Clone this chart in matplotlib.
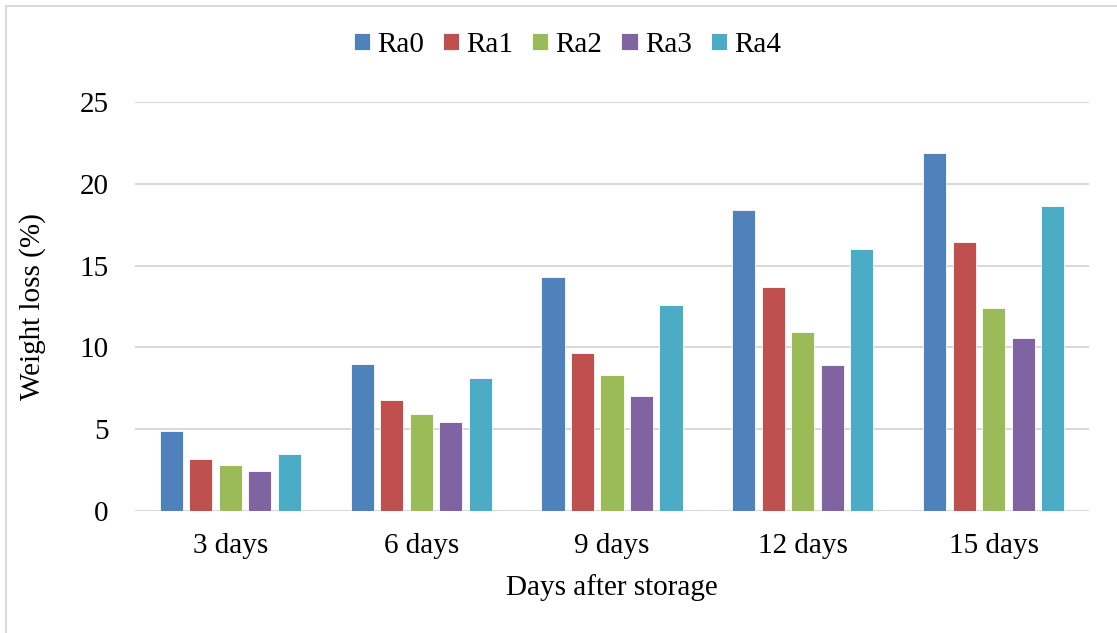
import numpy as np
import matplotlib
matplotlib.use("Agg")
import matplotlib.pyplot as plt
from matplotlib.patches import Rectangle

plt.rcParams['font.family'] = ['Liberation Serif', 'DejaVu Serif']

days = ["3 days", "6 days", "9 days", "12 days", "15 days"]
series = ["Ra0", "Ra1", "Ra2", "Ra3", "Ra4"]
ra0 = [4.89, 8.99, 14.30, 18.40, 21.88]
ra1 = [3.18, 6.78, 9.66, 13.69, 16.44]
ra2 = [2.81, 5.93, 8.31, 10.94, 12.41]
ra3 = [2.44, 5.44, 7.03, 8.92, 10.57]
ra4 = [3.48, 8.13, 12.59, 16.01, 18.64]
colors = ["#4F81BD", "#C0504D", "#9BBB59", "#8064A2", "#4BACC6"]

fig = plt.figure(figsize=(11.17, 6.33), dpi=100)
ax = fig.add_axes([135/1117, 1 - 511/633, (1089-135)/1117, (511-102)/633])

x = np.arange(len(days))
width = 0.121
step = 0.1546
for i, (vals, name) in enumerate(zip([ra0, ra1, ra2, ra3, ra4], series)):
    ax.bar(x + (i - 2) * step, vals, width, color=colors[i], label=name,
           edgecolor="white", linewidth=0.6, zorder=3)

ax.set_xlim(-0.5, 4.5)
ax.set_ylim(0, 25)
ax.set_yticks([0, 5, 10, 15, 20, 25])
ax.set_xticks(x)
ax.set_xticklabels(days)
ax.yaxis.grid(True, color="#D9D9D9", linewidth=1.5, zorder=0)
ax.set_axisbelow(True)
for s in ax.spines.values():
    s.set_visible(False)
ax.tick_params(axis="both", length=0, labelsize=21, colors="black")
ax.tick_params(axis="y", pad=19)
ax.tick_params(axis="x", pad=16)
ax.set_ylabel("Weight loss (%)", fontsize=21, labelpad=24)
ax.set_xlabel("Days after storage", fontsize=21, labelpad=11)

# legend centred on the whole chart, not the plot area
fig.legend(*ax.get_legend_handles_labels(), loc="center", bbox_to_anchor=(0.508, 1 - 45/633),
           ncol=5, frameon=False, fontsize=21, handlelength=0.55, handleheight=0.55,
           handletextpad=0.25, columnspacing=0.65, borderaxespad=0)

# outer frame of the chart
fig.patches.append(Rectangle((6/1117, -0.01), 1.1, 1 - 6/633 + 0.01, transform=fig.transFigure,
                             fill=False, edgecolor="#D9D9D9", linewidth=1.5))

fig.savefig("out.png", dpi=100)
